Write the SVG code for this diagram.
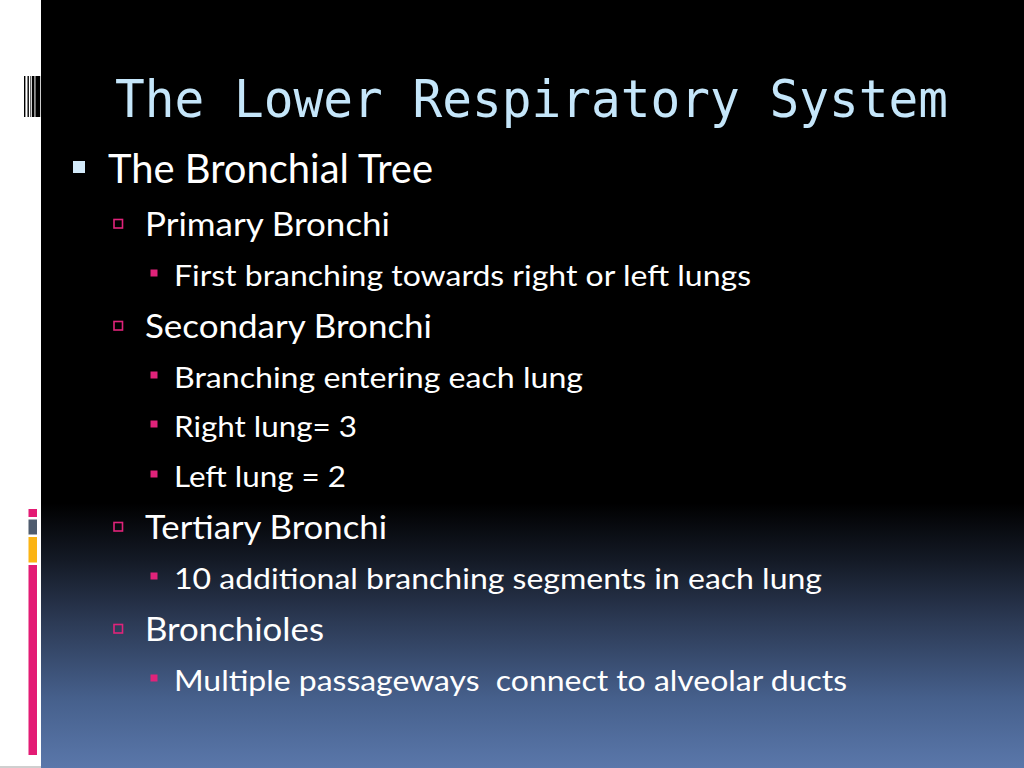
<svg xmlns="http://www.w3.org/2000/svg" width="1024" height="768" viewBox="0 0 1024 768">
<defs>
<linearGradient id="bg" x1="0" y1="0" x2="0" y2="768" gradientUnits="userSpaceOnUse">
<stop offset="0" stop-color="#000000"/>
<stop offset="0.655" stop-color="#000000"/>
<stop offset="0.73" stop-color="#141a26"/>
<stop offset="0.81" stop-color="#2c3a55"/>
<stop offset="0.91" stop-color="#46608c"/>
<stop offset="1" stop-color="#5a77aa"/>
</linearGradient>
<style>
.title{font-family:"DejaVu Sans Mono","Liberation Mono",monospace;font-size:52px;fill:#c5e6fa}
.t{font-family:Lato,"Open Sans","Liberation Sans",sans-serif;fill:#ffffff}
.l1{font-size:40px}
.l2{font-size:33px}
.l3{font-size:28px}
.b1{fill:#d3eafa}
.b2{fill:none;stroke:#e0237a;stroke-width:1.6}
.b3{fill:#e0237a}
</style>
</defs>
<rect x="0" y="0" width="1024" height="768" fill="#ffffff"/>
<rect x="41" y="0" width="983" height="768" fill="url(#bg)"/>
<g id="left-stripes">
<rect x="24" y="76" width="1.4" height="41" fill="#000"/>
<rect x="27.5" y="76" width="1.4" height="41" fill="#000"/>
<rect x="30" y="76" width="1.3" height="41" fill="#666"/>
<rect x="32" y="76" width="2.2" height="41" fill="#000"/>
<rect x="34.3" y="76" width="1.4" height="41" fill="#777"/>
<rect x="35.7" y="76" width="4.5" height="41" fill="#000"/>
</g>
<g id="left-bars">
<rect x="28.5" y="509" width="8.5" height="8" fill="#e31b74"/>
<rect x="28.5" y="519.5" width="8.5" height="15" fill="#4f5c6e"/>
<rect x="28.5" y="537" width="8.5" height="25.5" fill="#fbb414"/>
<rect x="28.5" y="565" width="8.5" height="190" fill="#e31b74"/>
</g>
<rect x="0" y="766" width="41" height="2" fill="#cfcfcf"/>
<g id="title"><text class="title" x="115" y="117" textLength="833" lengthAdjust="spacingAndGlyphs">The Lower Respiratory System</text></g>
<g id="item-bronchial-tree">
<rect class="b1" x="73" y="161" width="12" height="12"/>
<text class="t l1" x="108" y="183" textLength="325" lengthAdjust="spacingAndGlyphs">The Bronchial Tree</text>
</g>
<g id="item-primary">
<rect class="b2" x="114" y="219.5" width="8.5" height="8.5"/>
<text class="t l2" x="145" y="236" textLength="245" lengthAdjust="spacingAndGlyphs">Primary Bronchi</text>
</g>
<g id="item-first">
<rect class="b3" x="150.5" y="269.5" width="7" height="7"/>
<text class="t l3" x="174" y="286" textLength="577" lengthAdjust="spacingAndGlyphs">First branching towards right or left lungs</text>
</g>
<g id="item-secondary">
<rect class="b2" x="114" y="321.5" width="8.5" height="8.5"/>
<text class="t l2" x="145" y="338" textLength="287" lengthAdjust="spacingAndGlyphs">Secondary Bronchi</text>
</g>
<g id="item-branching">
<rect class="b3" x="150.5" y="371.5" width="7" height="7"/>
<text class="t l3" x="174" y="388" textLength="409" lengthAdjust="spacingAndGlyphs">Branching entering each lung</text>
</g>
<g id="item-right">
<rect class="b3" x="150.5" y="420.5" width="7" height="7"/>
<text class="t l3" x="174" y="437" textLength="183" lengthAdjust="spacingAndGlyphs">Right lung= 3</text>
</g>
<g id="item-left">
<rect class="b3" x="150.5" y="470.5" width="7" height="7"/>
<text class="t l3" x="174" y="487" textLength="172" lengthAdjust="spacingAndGlyphs">Left lung = 2</text>
</g>
<g id="item-tertiary">
<rect class="b2" x="114" y="522.5" width="8.5" height="8.5"/>
<text class="t l2" x="145" y="539" textLength="242" lengthAdjust="spacingAndGlyphs">Tertiary Bronchi</text>
</g>
<g id="item-segments">
<rect class="b3" x="150.5" y="572.5" width="7" height="7"/>
<text class="t l3" x="174" y="589" textLength="648" lengthAdjust="spacingAndGlyphs">10 additional branching segments in each lung</text>
</g>
<g id="item-bronchioles">
<rect class="b2" x="114" y="624.5" width="8.5" height="8.5"/>
<text class="t l2" x="145" y="641" textLength="179" lengthAdjust="spacingAndGlyphs">Bronchioles</text>
</g>
<g id="item-multiple">
<rect class="b3" x="150.5" y="674.5" width="7" height="7"/>
<text class="t l3" x="174" y="691" textLength="673" lengthAdjust="spacingAndGlyphs" xml:space="preserve">Multiple passageways  connect to alveolar ducts</text>
</g>
</svg>
